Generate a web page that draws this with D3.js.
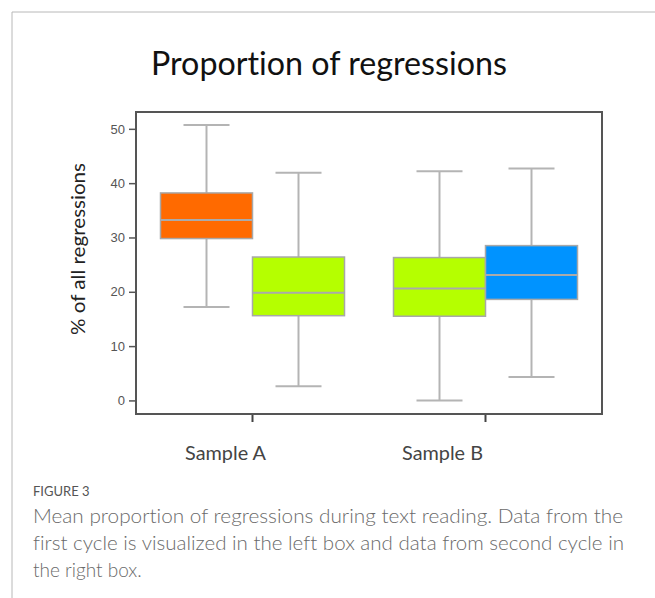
<!DOCTYPE html>
<html>
<head>
<meta charset="utf-8">
<script src="https://cdn.jsdelivr.net/npm/d3@7"></script>
<style>
  body { margin: 0; background: #fff; }
  text { font-variant-ligatures: none; }
</style>
</head>
<body>
<div id="chart"></div>
<script>
// values
var groups = ["Sample A", "Sample B"];
var cycles = ["first", "second"];
var boxGroup = ["Sample A", "Sample A", "Sample B", "Sample B"];
var boxCycle = ["first", "second", "first", "second"];
var whiskLow = [17.2, 2.6, 0.0, 4.3];
var q1 = [29.8, 15.6, 15.5, 18.6];
var median = [33.2, 19.8, 20.6, 23.1];
var q3 = [38.2, 26.4, 26.3, 28.5];
var whiskHigh = [50.7, 41.9, 42.2, 42.7];
var yTicks = [0, 10, 20, 30, 40, 50];
var boxColors = ["#ff6a00", "#b5ff00", "#b5ff00", "#0093ff"];

var W = 655, H = 598;
var svg = d3.select("#chart").append("svg")
    .attr("width", W)
    .attr("height", H);

// page frame
svg.append("line").attr("x1", 12).attr("y1", 12).attr("x2", W).attr("y2", 12)
  .attr("stroke", "#b8b8b8").attr("stroke-width", 1);
svg.append("line").attr("x1", 12).attr("y1", 12).attr("x2", 12).attr("y2", H)
  .attr("stroke", "#b8b8b8").attr("stroke-width", 1);

var plot = {left: 136, right: 602, top: 112, bottom: 414};

var x = d3.scaleBand().domain(groups).range([plot.left, plot.right]).padding(0);
var xInner = d3.scaleBand().domain(cycles).range([24.5, x.bandwidth() - 24.5]).padding(0);
var y = d3.scaleLinear().domain([-2.5, 53.1]).range([plot.bottom, plot.top]);

var labelFont = "Lato, 'Open Sans', sans-serif";

// title
svg.append("text")
  .attr("x", 329).attr("y", 75)
  .attr("text-anchor", "middle")
  .style("font-family", labelFont)
  .style("font-size", "32px")
  .attr("fill", "#111")
  .attr("textLength", 356)
  .attr("lengthAdjust", "spacingAndGlyphs")
  .text("Proportion of regressions");

// y axis
var yAxis = svg.append("g")
  .attr("transform", "translate(" + plot.left + ",0)")
  .call(d3.axisLeft(y).tickValues(yTicks).tickSize(7).tickPadding(4));
yAxis.select(".domain").remove();
yAxis.selectAll("line").attr("stroke", "#555").attr("stroke-width", 1.5);
yAxis.selectAll("text")
  .attr("fill", "#555")
  .style("font-family", "'Liberation Sans', Arial, sans-serif")
  .style("font-size", "13px");

svg.append("text")
  .attr("transform", "translate(85,249)rotate(-90)")
  .attr("text-anchor", "middle")
  .style("font-family", labelFont)
  .style("font-size", "20px")
  .attr("fill", "#222")
  .attr("textLength", 172)
  .attr("lengthAdjust", "spacingAndGlyphs")
  .text("% of all regressions");

// x axis ticks
svg.append("g").selectAll("line")
  .data(groups)
  .enter().append("line")
    .attr("x1", function(d) { return x(d) + x.bandwidth() / 2; })
    .attr("x2", function(d) { return x(d) + x.bandwidth() / 2; })
    .attr("y1", plot.bottom)
    .attr("y2", plot.bottom + 8)
    .attr("stroke", "#444")
    .attr("stroke-width", 2);

var labelShift = [-27, -43];
svg.append("g").selectAll("text")
  .data(groups)
  .enter().append("text")
    .attr("x", function(d, i) { return x(d) + x.bandwidth() / 2 + labelShift[i]; })
    .attr("y", 460)
    .attr("text-anchor", "middle")
    .style("font-family", labelFont)
    .style("font-size", "19px")
    .attr("fill", "#444")
    .attr("textLength", 81)
    .attr("lengthAdjust", "spacingAndGlyphs")
    .text(function(d) { return d; });

// boxes
var idx = d3.range(boxGroup.length);
var bw = xInner.bandwidth();
function cx(i) { return x(boxGroup[i]) + xInner(boxCycle[i]) + bw / 2; }

var boxes = svg.append("g").selectAll("g")
  .data(idx)
  .enter().append("g");

boxes.append("line")
  .attr("x1", cx).attr("x2", cx)
  .attr("y1", function(i) { return y(whiskHigh[i]); })
  .attr("y2", function(i) { return y(whiskLow[i]); })
  .attr("stroke", "#b4b4b4").attr("stroke-width", 2);

boxes.append("line")
  .attr("x1", function(i) { return cx(i) - bw / 4; })
  .attr("x2", function(i) { return cx(i) + bw / 4; })
  .attr("y1", function(i) { return y(whiskHigh[i]); })
  .attr("y2", function(i) { return y(whiskHigh[i]); })
  .attr("stroke", "#b4b4b4").attr("stroke-width", 2);

boxes.append("line")
  .attr("x1", function(i) { return cx(i) - bw / 4; })
  .attr("x2", function(i) { return cx(i) + bw / 4; })
  .attr("y1", function(i) { return y(whiskLow[i]); })
  .attr("y2", function(i) { return y(whiskLow[i]); })
  .attr("stroke", "#b4b4b4").attr("stroke-width", 2);

boxes.append("rect")
  .attr("x", function(i) { return cx(i) - bw / 2; })
  .attr("width", bw)
  .attr("y", function(i) { return y(q3[i]); })
  .attr("height", function(i) { return y(q1[i]) - y(q3[i]); })
  .attr("fill", function(i) { return boxColors[i]; })
  .attr("stroke", "#a8a8a8").attr("stroke-width", 1.5);

boxes.append("line")
  .attr("x1", function(i) { return cx(i) - bw / 2; })
  .attr("x2", function(i) { return cx(i) + bw / 2; })
  .attr("y1", function(i) { return y(median[i]); })
  .attr("y2", function(i) { return y(median[i]); })
  .attr("stroke", "#aaaaaa").attr("stroke-width", 2);

// plot frame
svg.append("rect")
  .attr("x", plot.left).attr("y", plot.top)
  .attr("width", plot.right - plot.left)
  .attr("height", plot.bottom - plot.top)
  .attr("fill", "none")
  .attr("stroke", "#555").attr("stroke-width", 2);

// caption
svg.append("text")
  .attr("x", 33).attr("y", 496)
  .style("font-family", labelFont)
  .style("font-size", "13px")
  .attr("fill", "#555")
  .text("FIGURE 3");

var caption = [
  "Mean proportion of regressions during text reading. Data from the",
  "first cycle is visualized in the left box and data from second cycle in",
  "the right box."
];
var capWidths = [590, 591, null];
svg.append("g").selectAll("text")
  .data(caption)
  .enter().append("text")
    .attr("x", 33)
    .attr("y", function(d, i) { return 523 + i * 27; })
    .style("font-family", labelFont)
    .style("font-weight", "300")
    .style("font-size", "19px")
    .attr("fill", "#6a6a6a")
    .attr("textLength", function(d, i) { return capWidths[i]; })
    .attr("lengthAdjust", "spacingAndGlyphs")
    .text(function(d) { return d; });
</script>
</body>
</html>
